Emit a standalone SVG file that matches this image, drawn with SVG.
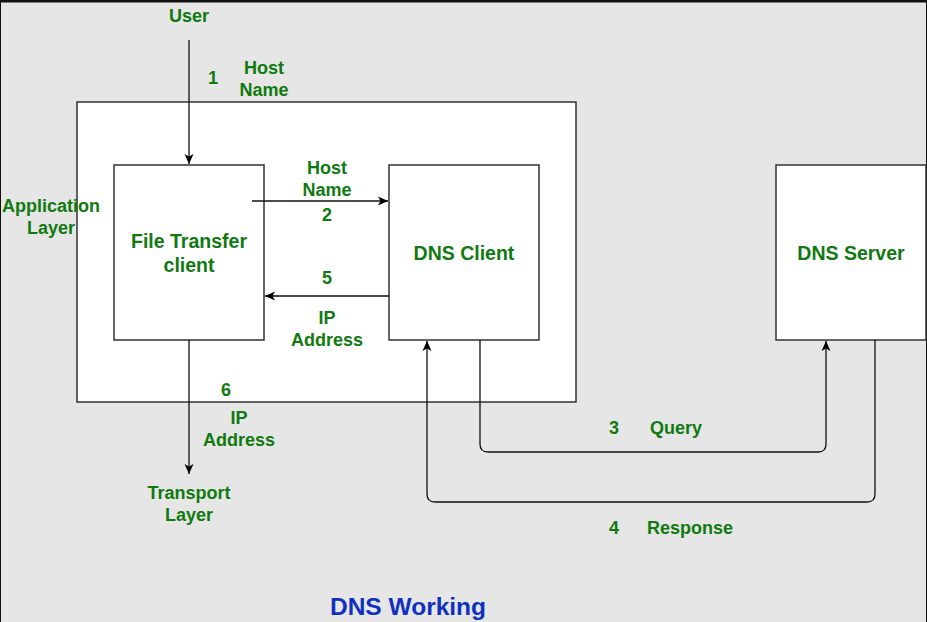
<svg xmlns="http://www.w3.org/2000/svg" width="927" height="622" viewBox="0 0 927 622">
<style>
.box{fill:#fff;stroke:#333;stroke-width:1.5}
.c{fill:none;stroke:#111;stroke-width:1.3}
.t{font-family:"Liberation Sans",Arial,sans-serif;font-weight:bold;fill:#107a10;text-anchor:middle;font-size:18px}
.n{font-size:19.5px}
.title{font-family:"Liberation Sans",Arial,sans-serif;font-weight:bold;fill:#1030c0;text-anchor:middle;font-size:24.5px}
</style>
<defs>
<marker id="ah" viewBox="0 0 10 10" refX="10" refY="5" markerWidth="10" markerHeight="10" markerUnits="userSpaceOnUse" orient="auto">
<path d="M0,0.5 L10,5 L0,9.5 L2.5,5 z" fill="#000"/>
</marker>
</defs>
<rect x="0" y="0" width="927" height="622" fill="#e6e6e6"/>
<rect x="0.5" y="1.5" width="926" height="625" fill="none" stroke="#111" stroke-width="1"/>
<rect x="0" y="0" width="927" height="2.5" fill="#111"/>
<g id="app-layer">
<rect class="box" x="77" y="102" width="499" height="300"/>
<text class="t" x="51" y="212">Application</text>
<text class="t" x="51" y="234">Layer</text>
</g>
<g id="file-transfer-client">
<rect class="box" x="114" y="165" width="150" height="175"/>
<text class="t n" x="189" y="248">File Transfer</text>
<text class="t n" x="189" y="272">client</text>
</g>
<g id="dns-client">
<rect class="box" x="389" y="165" width="150" height="175"/>
<text class="t n" x="464" y="260">DNS Client</text>
</g>
<g id="dns-server">
<rect class="box" x="776" y="165" width="150" height="175"/>
<text class="t n" x="851" y="260">DNS Server</text>
</g>
<g id="user"><text class="t" x="189" y="22">User</text></g>
<g id="transport-layer">
<text class="t" x="189" y="499">Transport</text>
<text class="t" x="189" y="521">Layer</text>
</g>
<g id="connectors">
<path class="c" d="M189,40 V164" marker-end="url(#ah)"/>
<path class="c" d="M252,201 H388" marker-end="url(#ah)"/>
<path class="c" d="M389,296 H265" marker-end="url(#ah)"/>
<path class="c" d="M189,340 V474" marker-end="url(#ah)"/>
<path class="c" d="M480,340 V444 Q480,452 488,452 H818 Q826,452 826,444 V341" marker-end="url(#ah)"/>
<path class="c" d="M875,340 V494 Q875,502 867,502 H435 Q427,502 427,494 V341" marker-end="url(#ah)"/>
</g>
<g id="labels">
<text class="t" x="213" y="84">1</text>
<text class="t" x="264" y="74">Host</text>
<text class="t" x="264" y="96">Name</text>
<text class="t" x="327" y="174">Host</text>
<text class="t" x="327" y="196">Name</text>
<text class="t" x="327" y="221">2</text>
<text class="t" x="327" y="284">5</text>
<text class="t" x="327" y="324">IP</text>
<text class="t" x="327" y="346">Address</text>
<text class="t" x="226" y="396">6</text>
<text class="t" x="239" y="424">IP</text>
<text class="t" x="239" y="446">Address</text>
<text class="t" x="614" y="434">3</text>
<text class="t" x="676" y="434">Query</text>
<text class="t" x="614" y="534">4</text>
<text class="t" x="690" y="534">Response</text>
</g>
<text class="title" x="408" y="615">DNS Working</text>
</svg>
